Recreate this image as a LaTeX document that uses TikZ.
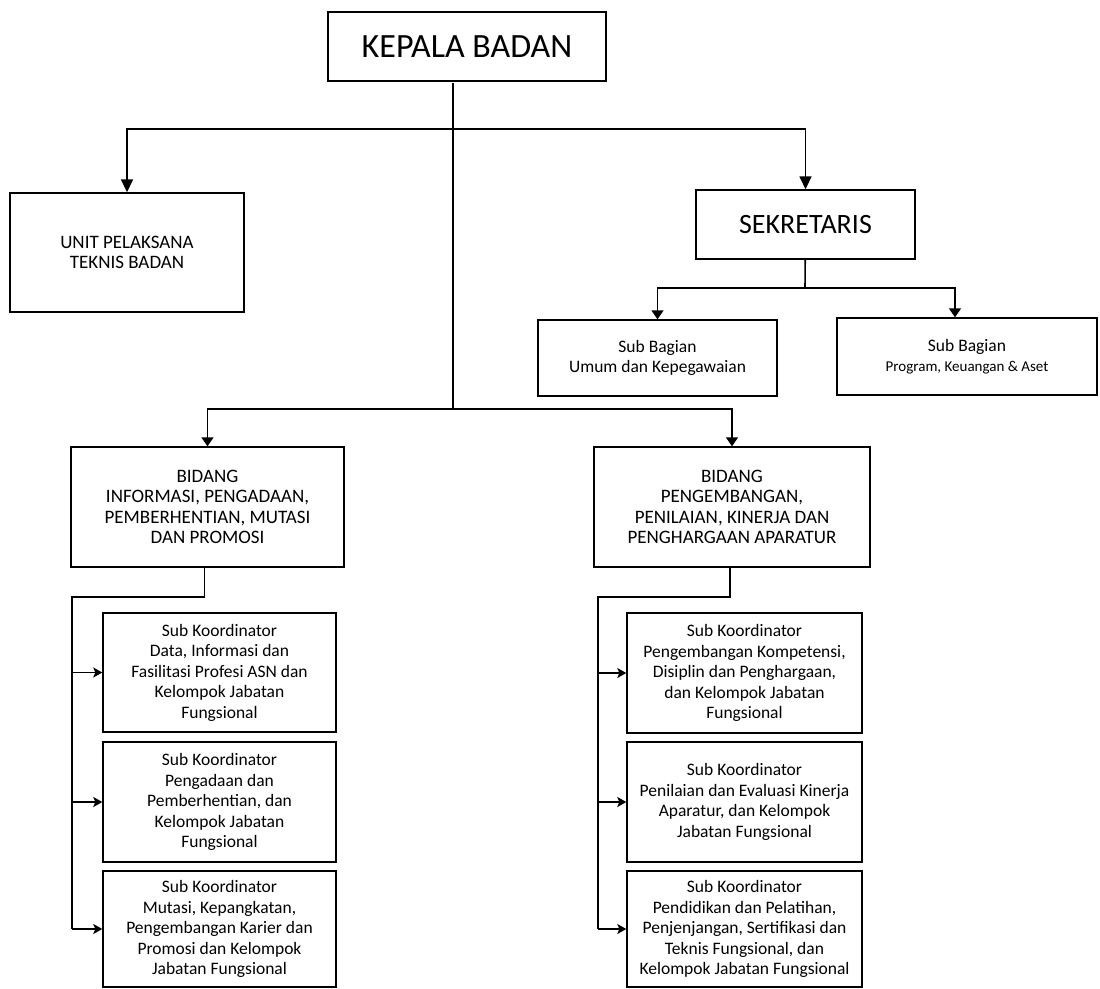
\documentclass[tikz,border=0pt]{standalone}
\usepackage{fontspec}
\setmainfont{Carlito}
\usetikzlibrary{arrows.meta,positioning}

\tikzset{
  unit/.style={draw, line width=1.4pt, align=center, inner sep=2pt},
  head/.style={unit, font=\fs{19}{20.5}},
  subk/.style={unit, font=\fs{17.5}{20.5}},
  link/.style={line width=1.6pt},
  down/.style={link, -{Triangle[length=13pt,width=12pt]}},
  downsm/.style={link, -{Triangle[length=9pt,width=12pt]}},
  side/.style={link, -{Stealth[length=9pt,width=10pt,inset=2pt]}}
}
\newcommand{\fs}[2]{\fontsize{#1}{#2}\selectfont}

\begin{document}
\begin{tikzpicture}[x=1pt, y=-1pt]
\useasboundingbox (0,0) rectangle (1100,988);

% top level
\node[unit, font=\fs{34}{36}, minimum width=278pt, minimum height=69pt] (kepala) at (467,46.5) {KEPALA BADAN};
\node[head, minimum width=234pt, minimum height=119pt] (upt) at (127,252.5) {UNIT PELAKSANA\\TEKNIS BADAN};
\node[unit, font=\fs{28}{30}, minimum width=219pt, minimum height=69pt] (sek) at (805.5,224.5) {SEKRETARIS};

% sub bagian
\node[subk, minimum width=239pt, minimum height=76pt] (umum) at (657.5,358) {Sub Bagian\\Umum dan Kepegawaian};
\node[subk, minimum width=260pt, minimum height=77pt] (prog) at (967,356.5) {Sub Bagian\\\fs{15}{17}Program, Keuangan \& Aset};

% bidang
\node[head, minimum width=273pt, minimum height=120pt] (bidL) at (207.5,507) {BIDANG\\INFORMASI, PENGADAAN,\\PEMBERHENTIAN, MUTASI\\DAN PROMOSI};
\node[head, minimum width=276pt, minimum height=120pt] (bidR) at (732,507) {BIDANG\\PENGEMBANGAN,\\PENILAIAN, KINERJA DAN\\PENGHARGAAN APARATUR};

% sub koordinator kiri
\node[subk, minimum width=233pt, minimum height=119pt] (subL1) at (219.5,672.5) {Sub Koordinator\\Data, Informasi dan\\Fasilitasi Profesi ASN dan\\Kelompok Jabatan\\Fungsional};
\node[subk, minimum width=233pt, minimum height=120pt] (subL2) at (219.5,802) {Sub Koordinator\\Pengadaan dan\\Pemberhentian, dan\\Kelompok Jabatan\\Fungsional};
\node[subk, minimum width=233pt, minimum height=116pt] (subL3) at (219.5,929) {Sub Koordinator\\Mutasi, Kepangkatan,\\Pengembangan Karier dan\\Promosi dan Kelompok\\Jabatan Fungsional};

% sub koordinator kanan
\node[subk, minimum width=235pt, minimum height=120pt] (subR1) at (744.5,673) {Sub Koordinator\\Pengembangan Kompetensi,\\Disiplin dan Penghargaan,\\dan Kelompok Jabatan\\Fungsional};
\node[subk, minimum width=235pt, minimum height=120pt] (subR2) at (744.5,802) {Sub Koordinator\\Penilaian dan Evaluasi Kinerja\\Aparatur, dan Kelompok\\Jabatan Fungsional};
\node[subk, minimum width=235pt, minimum height=116pt] (subR3) at (744.5,929) {Sub Koordinator\\Pendidikan dan Pelatihan,\\Penjenjangan, Sertifikasi dan\\Teknis Fungsional, dan\\Kelompok Jabatan Fungsional};

% junctions
\coordinate (kb) at (453,83);
\coordinate (j1) at (453,129);
\coordinate (j2) at (453,409);
\coordinate (js) at (805,288);
\coordinate (bl) at (72,597);
\coordinate (br) at (598,597);

% lines
\draw[link] (kb) -- (j2);
\draw[down] (j1) -| (upt);
\draw[down] (j1) -| (sek);
\draw[link] (sek) -- (js);
\draw[downsm] (js) -| (umum);
\draw[downsm] (js) -| ([xshift=-12pt]prog.north);
\draw[downsm] (j2) -| (bidL);
\draw[downsm] (j2) -| (bidR);

\draw[link] ([xshift=-3pt]bidL.south) |- (bl) -- (bl |- subL3.west);
\draw[side] (bl |- subL1.west) -- (subL1.west);
\draw[side] (bl |- subL2.west) -- (subL2.west);
\draw[side] (bl |- subL3.west) -- (subL3.west);

\draw[link] ([xshift=-2pt]bidR.south) |- (br) -- (br |- subR3.west);
\draw[side] (br |- subR1.west) -- (subR1.west);
\draw[side] (br |- subR2.west) -- (subR2.west);
\draw[side] (br |- subR3.west) -- (subR3.west);
\end{tikzpicture}
\end{document}
